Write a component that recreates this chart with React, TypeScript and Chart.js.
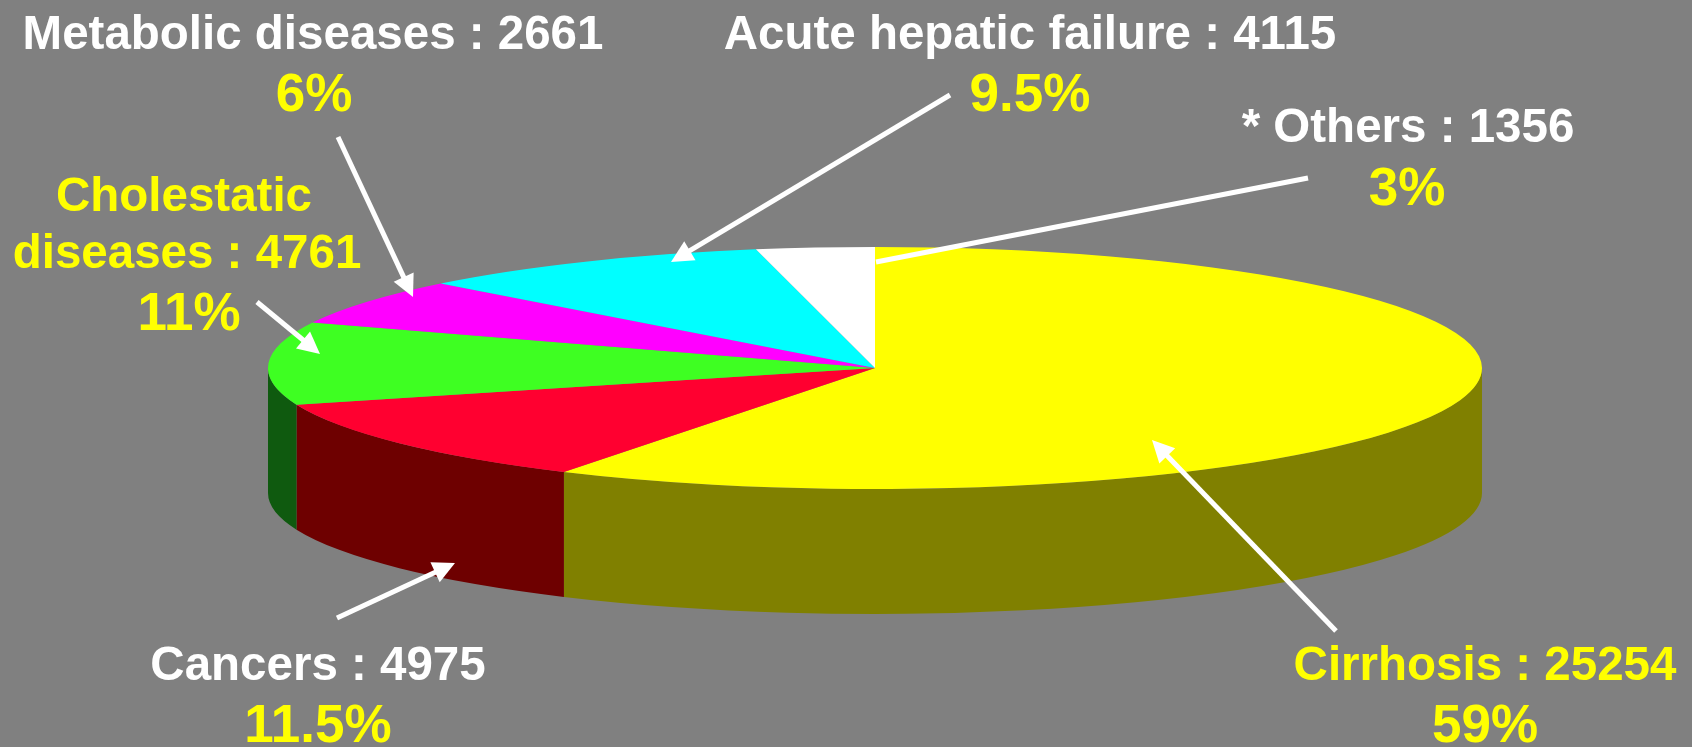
import React, { useEffect, useRef } from "react";
import { Chart, registerables } from "chart.js";

Chart.register(...registerables);

// ---- data ----
const categories = ["Cirrhosis", "Cancers", "Cholestatic diseases", "Metabolic diseases", "Acute hepatic failure", "* Others"];
const counts = [25254, 4975, 4761, 2661, 4115, 1356];
const percentLabels = ["59%", "11.5%", "11%", "6%", "9.5%", "3%"];

// ---- styles ----
const topColors = ["#FFFF00", "#FF0030", "#3EFF22", "#FF00FF", "#00FFFF", "#FFFFFF"];
const sideColors = ["#808000", "#6E0000", "#0F5A0F", "#800080", "#008080", "#A0A0A0"];
const BG = "#808080";
const W = 1692;
const H = 747;

// 3D ellipse geometry (screen)
const CX = 875;
const CY = 368;
const RX = 607;
const RY = 121;
const DEPTH = 125;

// label layout: name lines, percent, arrow
type Lbl = {
  lines: { text: string; x: number; y: number }[];
  nameColor: string;
  pct: { x: number; y: number };
  arrow: { x1: number; y1: number; x2: number; y2: number; head: boolean };
};
const labelLayout: Lbl[] = [
  { lines: [{ text: `${categories[0]} : ${counts[0]}`, x: 1485, y: 680 }], nameColor: "#FFFF00", pct: { x: 1485, y: 742 }, arrow: { x1: 1336, y1: 631, x2: 1152, y2: 440, head: true } },
  { lines: [{ text: `${categories[1]} : ${counts[1]}`, x: 318, y: 680 }], nameColor: "#FFFFFF", pct: { x: 318, y: 742 }, arrow: { x1: 337, y1: 618, x2: 455, y2: 563, head: true } },
  { lines: [{ text: "Cholestatic", x: 184, y: 211 }, { text: `diseases : ${counts[2]}`, x: 187, y: 268 }], nameColor: "#FFFF00", pct: { x: 189, y: 330 }, arrow: { x1: 257, y1: 302, x2: 320, y2: 354, head: true } },
  { lines: [{ text: `${categories[3]} : ${counts[3]}`, x: 313, y: 49 }], nameColor: "#FFFFFF", pct: { x: 314, y: 111 }, arrow: { x1: 338, y1: 137, x2: 413, y2: 297, head: true } },
  { lines: [{ text: `${categories[4]} : ${counts[4]}`, x: 1030, y: 49 }], nameColor: "#FFFFFF", pct: { x: 1030, y: 111 }, arrow: { x1: 950, y1: 95, x2: 671, y2: 262, head: true } },
  { lines: [{ text: `${categories[5]} : ${counts[5]}`, x: 1408, y: 142 }], nameColor: "#FFFFFF", pct: { x: 1407, y: 205 }, arrow: { x1: 1308, y1: 178, x2: 876, y2: 262, head: false } },
];

const NAME_FONT = 'bold 47.5px "Liberation Sans", Arial, sans-serif';
const PCT_FONT = 'bold 53px "Liberation Sans", Arial, sans-serif';

const pie3d = {
  id: "pie3d",
  beforeDraw(chart: any) {
    const ctx = chart.ctx;
    ctx.save();
    ctx.fillStyle = BG;
    ctx.fillRect(0, 0, chart.width, chart.height);
    ctx.restore();
  },
  beforeDatasetsDraw(chart: any) {
    const ctx = chart.ctx;
    const arcs = chart.getDatasetMeta(0).data;
    if (!arcs.length) return;
    const { x, y, outerRadius } = arcs[0].getProps(["x", "y", "outerRadius"], true);
    ctx.save();
    for (let i = 0; i < arcs.length; i++) {
      const { startAngle, endAngle } = arcs[i].getProps(["startAngle", "endAngle"], true);
      const s = Math.max(startAngle, 0);
      const e = Math.min(endAngle, Math.PI);
      if (e <= s) continue;
      ctx.beginPath();
      ctx.ellipse(CX, CY, RX, RY, 0, s, e, false);
      ctx.ellipse(CX, CY + DEPTH, RX, RY, 0, e, s, true);
      ctx.closePath();
      ctx.fillStyle = sideColors[i];
      ctx.fill();
    }
    ctx.restore();
    ctx.save();
    ctx.translate(CX, CY);
    ctx.scale(RX / outerRadius, RY / outerRadius);
    ctx.translate(-x, -y);
  },
  afterDatasetsDraw(chart: any) {
    chart.ctx.restore();
  },
  afterDraw(chart: any) {
    const ctx = chart.ctx;
    ctx.save();
    ctx.textAlign = "center";
    ctx.textBaseline = "alphabetic";
    labelLayout.forEach((l, i) => {
      ctx.font = NAME_FONT;
      ctx.fillStyle = l.nameColor;
      l.lines.forEach((ln) => ctx.fillText(ln.text, ln.x, ln.y));
      ctx.font = PCT_FONT;
      ctx.fillStyle = "#FFFF00";
      ctx.fillText(percentLabels[i], l.pct.x, l.pct.y);
      const a = l.arrow;
      const ang = Math.atan2(a.y2 - a.y1, a.x2 - a.x1);
      const headLen = a.head ? 22 : 0;
      ctx.strokeStyle = "#FFFFFF";
      ctx.fillStyle = "#FFFFFF";
      ctx.lineWidth = 5;
      ctx.beginPath();
      ctx.moveTo(a.x1, a.y1);
      ctx.lineTo(a.x2 - Math.cos(ang) * headLen * 0.8, a.y2 - Math.sin(ang) * headLen * 0.8);
      ctx.stroke();
      if (a.head) {
        ctx.beginPath();
        ctx.moveTo(a.x2, a.y2);
        ctx.lineTo(a.x2 - Math.cos(ang) * headLen + Math.sin(ang) * 11, a.y2 - Math.sin(ang) * headLen - Math.cos(ang) * 11);
        ctx.lineTo(a.x2 - Math.cos(ang) * headLen - Math.sin(ang) * 11, a.y2 - Math.sin(ang) * headLen + Math.cos(ang) * 11);
        ctx.closePath();
        ctx.fill();
      }
    });
    ctx.restore();
  },
};

export default function App() {
  const ref = useRef<HTMLCanvasElement | null>(null);
  useEffect(() => {
    if (!ref.current) return;
    const chart = new Chart(ref.current, {
      type: "pie",
      data: {
        labels: categories,
        datasets: [
          {
            data: counts,
            backgroundColor: topColors,
            borderColor: topColors,
            borderWidth: 0,
            clip: false as any,
          } as any,
        ],
      },
      options: {
        animation: false,
        responsive: false,
        devicePixelRatio: 1,
        events: [],
        layout: { padding: 0 },
        plugins: { legend: { display: false }, tooltip: { enabled: false } },
      } as any,
      plugins: [pie3d],
    });
    return () => chart.destroy();
  }, []);
  return (
    <div style={{ position: "fixed", left: 0, top: 0, width: W, height: H, background: BG }}>
      <canvas ref={ref} width={W} height={H} style={{ display: "block", width: W, height: H }} />
    </div>
  );
}
